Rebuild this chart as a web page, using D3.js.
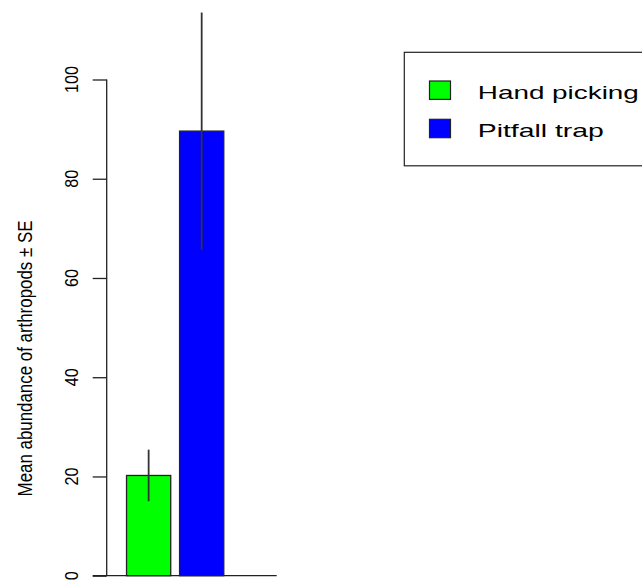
<!DOCTYPE html>
<html>
<head>
<meta charset="utf-8">
<script src="https://cdn.jsdelivr.net/npm/d3@7"></script>
<style>
  html, body { margin: 0; padding: 0; background: #fff; }
  svg { display: block; }
  text { font-family: "Liberation Sans", Arial, sans-serif; fill: #000; }
</style>
</head>
<body>
<svg id="chart" width="642" height="581"></svg>
<script>
// Sampling methods and their mean arthropod counts with standard errors
const categories = ["Hand picking", "Pitfall trap"];
const means = [20.2, 89.6];
const stdErrors = [5.2, 23.9];
const colors = ["#00ff00", "#0000ff"];
const yTicks = [0, 20, 40, 60, 80, 100];
const yTitle = "Mean abundance of arthropods \u00b1 SE";

const svg = d3.select("#chart");

// Vertical scale: counts to pixels
const y = d3.scaleLinear().domain([0, 100]).range([575.7, 79.5]);

// Bar layout in bar-width units: width 1, gap 0.2 before each bar
const barSpace = 0.2;
const x = d3.scaleLinear().domain([0, 1]).range([117.7, 161.9]);
const bars = categories.map((c, i) => ({
  name: c,
  mean: means[i],
  se: stdErrors[i],
  color: colors[i],
  left: barSpace + i * (1 + barSpace),
  right: barSpace + i * (1 + barSpace) + 1
}));

// Baseline under the bars
svg.append("line")
  .attr("x1", 92.7).attr("x2", 276.7)
  .attr("y1", y(0)).attr("y2", y(0))
  .attr("stroke", "#222").attr("stroke-width", 1.3);

// Bars
svg.append("g").selectAll("rect")
  .data(bars)
  .join("rect")
  .attr("x", d => x(d.left))
  .attr("width", d => x(d.right) - x(d.left))
  .attr("y", d => y(d.mean))
  .attr("height", d => y(0) - y(d.mean))
  .attr("fill", d => d.color)
  .attr("stroke", "#222")
  .attr("stroke-width", 1.3);

// Error bars (mean ± SE, no caps)
svg.append("g").selectAll("line")
  .data(bars)
  .join("line")
  .attr("x1", d => x((d.left + d.right) / 2))
  .attr("x2", d => x((d.left + d.right) / 2))
  .attr("y1", d => y(d.mean - d.se))
  .attr("y2", d => y(d.mean + d.se))
  .attr("stroke", "#333")
  .attr("stroke-width", 1.8);

// Y axis
const axisX = 106.7;
const yAxis = d3.axisLeft(y).tickValues(yTicks).tickSize(14).tickFormat(() => "");
const gAxis = svg.append("g")
  .attr("transform", `translate(${axisX},0)`)
  .call(yAxis);
gAxis.select(".domain").attr("d", `M0,${y(0)}V${y(100)}`).attr("stroke", "#222").attr("stroke-width", 1.3);
gAxis.selectAll(".tick line").attr("stroke", "#222").attr("stroke-width", 1.3);

// Rotated tick labels
svg.append("g").selectAll("text")
  .data(yTicks)
  .join("text")
  .attr("transform", d => `translate(77.7,${y(d)}) scale(1.18,1) rotate(-90)`)
  .attr("text-anchor", "middle")
  .attr("font-size", 16.2)
  .text(d => d);

// Y axis title
svg.append("text")
  .attr("transform", "translate(31.7,358.5) scale(1.24,1) rotate(-90)")
  .attr("text-anchor", "middle")
  .attr("font-size", 16.9)
  .text(yTitle);

// Legend
const legend = svg.append("g");
legend.append("rect")
  .attr("x", 404.3).attr("y", 52.3)
  .attr("width", 300).attr("height", 113.5)
  .attr("fill", "#fff")
  .attr("stroke", "#222").attr("stroke-width", 1.2);

const rowY = [90.2, 128.5];
const labelWidths = [161, 126];
legend.selectAll("rect.key")
  .data(bars)
  .join("rect")
  .attr("class", "key")
  .attr("x", 429.5)
  .attr("y", (d, i) => rowY[i] - 9.2)
  .attr("width", 21)
  .attr("height", 18.4)
  .attr("fill", d => d.color)
  .attr("stroke", "#222").attr("stroke-width", 1.2);

legend.selectAll("text")
  .data(bars)
  .join("text")
  .attr("x", 477.8)
  .attr("y", (d, i) => rowY[i] + 8.8)
  .attr("font-size", 19)
  .attr("textLength", (d, i) => labelWidths[i])
  .attr("lengthAdjust", "spacingAndGlyphs")
  .text(d => d.name);
</script>
</body>
</html>
